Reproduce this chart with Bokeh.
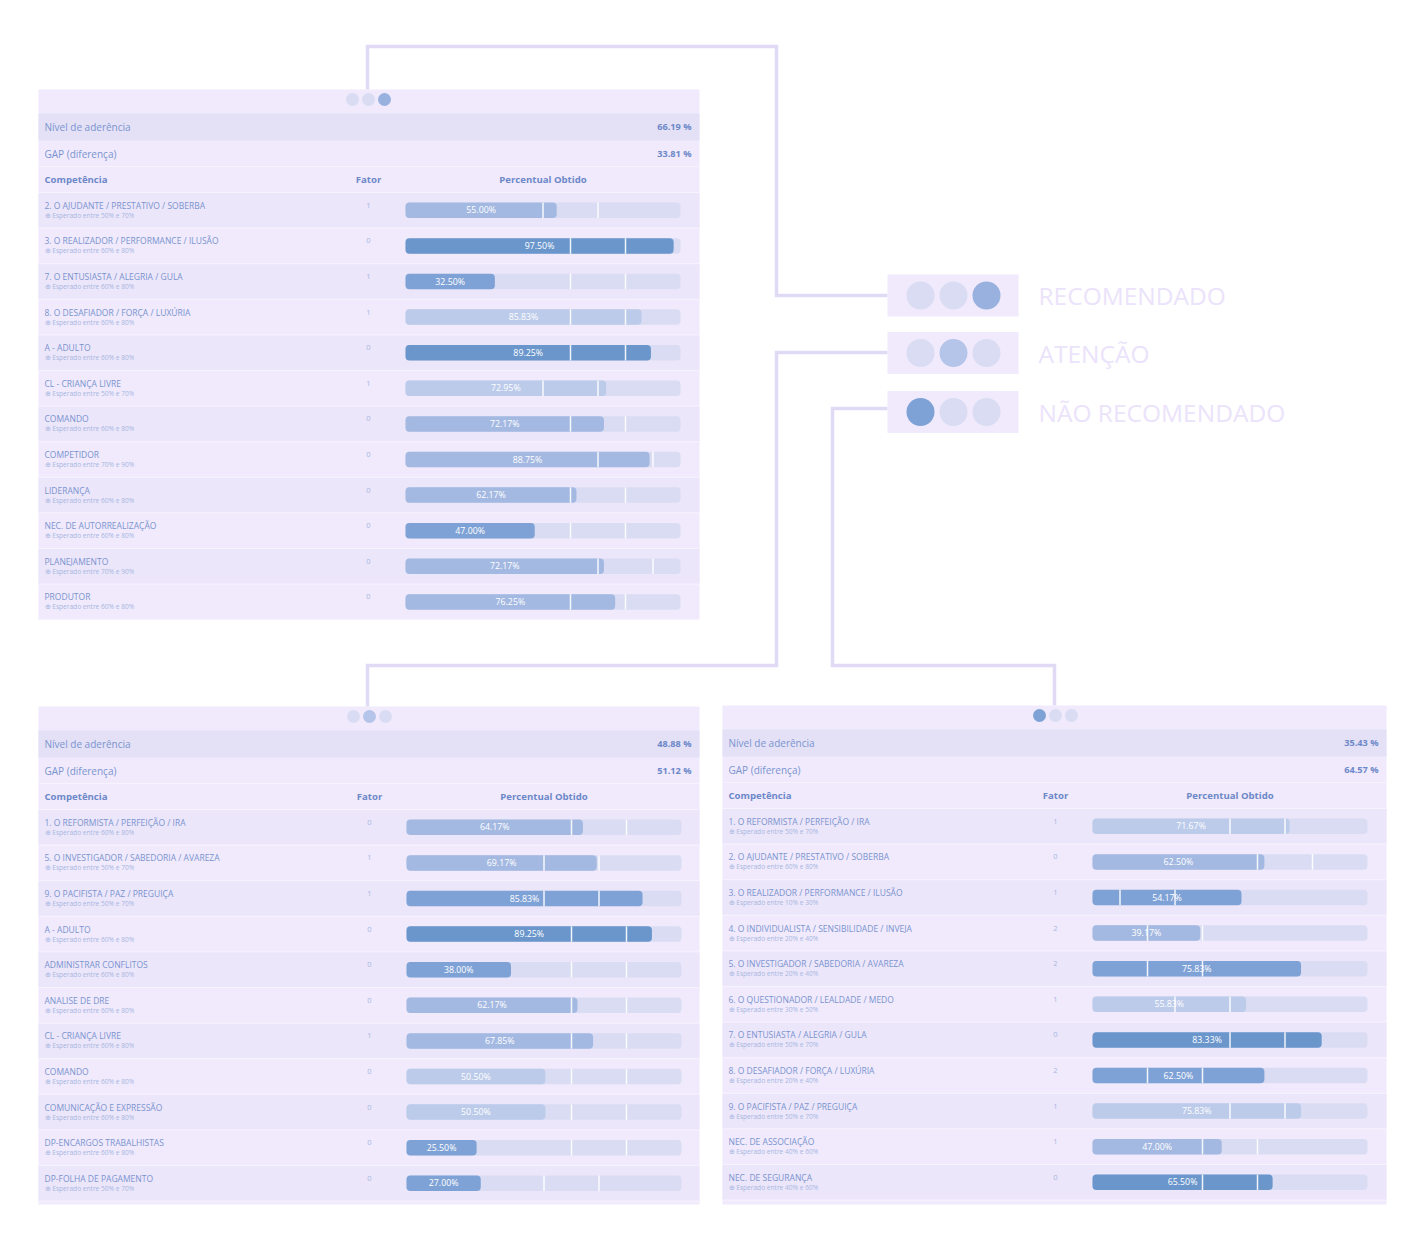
from bokeh.plotting import figure
from bokeh.models import Range1d, ColumnDataSource
from bokeh.embed import file_html
from bokeh.resources import INLINE
from bokeh.core.properties import value

# ---------------- DATA ----------------
sup_competencias = ["2. O AJUDANTE / PRESTATIVO / SOBERBA", "3. O REALIZADOR / PERFORMANCE / ILUSÃO",
                    "7. O ENTUSIASTA / ALEGRIA / GULA", "8. O DESAFIADOR / FORÇA / LUXÚRIA", "A - ADULTO",
                    "CL - CRIANÇA LIVRE", "COMANDO", "COMPETIDOR", "LIDERANÇA", "NEC. DE AUTORREALIZAÇÃO",
                    "PLANEJAMENTO", "PRODUTOR"]
sup_fator = [1, 0, 1, 1, 0, 1, 0, 0, 0, 0, 0, 0]
sup_percentual = [55.00, 97.50, 32.50, 85.83, 89.25, 72.95, 72.17, 88.75, 62.17, 47.00, 72.17, 76.25]
sup_esp_min = [50, 60, 60, 60, 60, 50, 60, 70, 60, 60, 70, 60]
sup_esp_max = [70, 80, 80, 80, 80, 70, 80, 90, 80, 80, 90, 80]
sup_aderencia = 66.19
sup_gap = 33.81
sup_status = "RECOMENDADO"

esq_competencias = ["1. O REFORMISTA / PERFEIÇÃO / IRA", "5. O INVESTIGADOR / SABEDORIA / AVAREZA",
                    "9. O PACIFISTA / PAZ / PREGUIÇA", "A - ADULTO", "ADMINISTRAR CONFLITOS", "ANALISE DE DRE",
                    "CL - CRIANÇA LIVRE", "COMANDO", "COMUNICAÇÃO E EXPRESSÃO", "DP-ENCARGOS TRABALHISTAS",
                    "DP-FOLHA DE PAGAMENTO"]
esq_fator = [0, 1, 1, 0, 0, 0, 1, 0, 0, 0, 0]
esq_percentual = [64.17, 69.17, 85.83, 89.25, 38.00, 62.17, 67.85, 50.50, 50.50, 25.50, 27.00]
esq_esp_min = [60, 50, 50, 60, 60, 60, 60, 60, 60, 60, 50]
esq_esp_max = [80, 70, 70, 80, 80, 80, 80, 80, 80, 80, 70]
esq_aderencia = 48.88
esq_gap = 51.12
esq_status = "ATENÇÃO"

dir_competencias = ["1. O REFORMISTA / PERFEIÇÃO / IRA", "2. O AJUDANTE / PRESTATIVO / SOBERBA",
                    "3. O REALIZADOR / PERFORMANCE / ILUSÃO", "4. O INDIVIDUALISTA / SENSIBILIDADE / INVEJA",
                    "5. O INVESTIGADOR / SABEDORIA / AVAREZA", "6. O QUESTIONADOR / LEALDADE / MEDO",
                    "7. O ENTUSIASTA / ALEGRIA / GULA", "8. O DESAFIADOR / FORÇA / LUXÚRIA",
                    "9. O PACIFISTA / PAZ / PREGUIÇA", "NEC. DE ASSOCIAÇÃO", "NEC. DE SEGURANÇA"]
dir_fator = [1, 0, 1, 2, 2, 1, 0, 2, 1, 1, 0]
dir_percentual = [71.67, 62.50, 54.17, 39.17, 75.83, 55.83, 83.33, 62.50, 75.83, 47.00, 65.50]
dir_esp_min = [50, 60, 10, 20, 20, 30, 50, 20, 50, 40, 40]
dir_esp_max = [70, 80, 30, 40, 40, 50, 70, 40, 70, 60, 60]
dir_aderencia = 35.43
dir_gap = 64.57
dir_status = "NÃO RECOMENDADO"

legenda_status = ["RECOMENDADO", "ATENÇÃO", "NÃO RECOMENDADO"]

# ---------------- STYLE ----------------
FONT = value("Open Sans")
PANEL = "#f0eafc"
ROW_ALT = "#ece6fa"
BAND = "#e4e1f6"
SEP = "#f7f3fe"
TRACK = "#d9dcf2"
TXT = "#7a94cf"
TXT_HEAD = "#6c88c8"
TXT_SUB = "#a7b7e1"
CONNECT = "#e0daf5"
LEG_TXT = "#ebe3fb"
C_LIGHT, C_MED, C_DARK, C_DARKEST = "#bccbea", "#a4b9e2", "#7fa2d6", "#6a96cc"
STATUS_DOT = {"RECOMENDADO": 2, "ATENÇÃO": 1, "NÃO RECOMENDADO": 0}
STATUS_COLOR = {"RECOMENDADO": "#98b1df", "ATENÇÃO": "#b5c5e9", "NÃO RECOMENDADO": "#7ea2d6"}
DOT_OFF = "#d9dcf2"


def shade(v, lo, hi, f):
    if lo <= v <= hi:
        return C_MED
    if v > hi and f == 0:
        return C_DARKEST
    gap = v - hi if v > hi else lo - v
    return C_LIGHT if gap < 10 else C_DARK


W, H = 1420, 1240
p = figure(width=W, height=H, x_range=Range1d(0, W), y_range=Range1d(H, 0),
           output_backend="svg", toolbar_location=None, min_border=0,
           x_axis_type=None, y_axis_type=None, outline_line_color=None,
           background_fill_color="white", border_fill_color="white")
p.grid.visible = False

# ---------------- connectors ----------------
p.multi_line(xs=[[367, 367, 776, 776, 887], [367, 367, 776, 776, 887], [1054, 1054, 832, 832, 887]],
             ys=[[89, 46, 46, 295, 295], [706, 665, 665, 352, 352], [705, 665, 665, 408, 408]],
             line_color=CONNECT, line_width=3.5, line_join="miter")

RH = 35.6


def painel(key, x0, x1, y0, y1, bx0, bx1, fx, nomes, fator, perc, emin, emax, ader, gap, status):
    rows_top = y0 + 103
    n = len(nomes)
    span = 100.0 * W / (bx1 - bx0)
    xs = -bx0 * span / W
    p.extra_x_ranges[key] = Range1d(xs, xs + span)
    e = -(rows_top / RH + 0.5)
    p.extra_y_ranges[key] = Range1d(e + H / RH, e)

    p.quad(left=x0, right=x1, top=y0, bottom=y1, fill_color=PANEL, line_color=None)
    p.quad(left=x0, right=x1, top=y0 + 24, bottom=y0 + 51, fill_color=BAND, line_color=None)
    idx = list(range(n))
    alt = [i for i in idx if i % 2 == 0]
    p.quad(left=x0, right=x1, top=[i - 0.5 for i in alt], bottom=[i + 0.5 for i in alt],
           fill_color=ROW_ALT, line_color=None, y_range_name=key)
    p.segment(x0=x0, x1=x1, y0=[i + 0.5 for i in idx], y1=[i + 0.5 for i in idx],
              line_color=SEP, line_width=1, y_range_name=key)
    p.segment(x0=x0, x1=x1, y0=[y0 + 77, y0 + 103], y1=[y0 + 77, y0 + 103], line_color=SEP, line_width=1)

    # status dots
    act = STATUS_DOT[status]
    p.scatter(x=[fx - 16, fx, fx + 16], y=[y0 + 10] * 3, size=13, line_color=None,
              fill_color=[STATUS_COLOR[status] if k == act else DOT_OFF for k in range(3)])

    # header texts
    lx = x0 + 6
    rx = x1 - 8
    p.text(x=[lx, lx], y=[y0 + 37, y0 + 64], text=["Nível de aderência", "GAP (diferença)"],
           text_font=FONT, text_font_size="10px", text_color=TXT, text_baseline="middle")
    p.text(x=[rx, rx], y=[y0 + 37, y0 + 64], text=[f"{ader:.2f} %", f"{gap:.2f} %"],
           text_font=FONT, text_font_size="9.2px", text_font_style="bold", text_color=TXT_HEAD,
           text_align="right", text_baseline="middle")
    p.text(x=[lx], y=[y0 + 90], text=["Competência"], text_font=FONT, text_font_size="9.6px",
           text_font_style="bold", text_color=TXT_HEAD, text_baseline="middle")
    p.text(x=[fx, (bx0 + bx1) / 2], y=[y0 + 90, y0 + 90], text=["Fator", "Percentual Obtido"],
           text_font=FONT, text_font_size="9.6px", text_font_style="bold", text_color=TXT_HEAD,
           text_align="center", text_baseline="middle")

    bh = 15.5 / RH
    src = ColumnDataSource(dict(
        row=idx, nome=nomes, fator=[str(f) for f in fator], perc=perc, meio=[v / 2 for v in perc],
        rot=[f"{v:.2f}%" for v in perc],
        sub=[f"⊕ Esperado entre {a}% e {b}%" for a, b in zip(emin, emax)],
        cor=[shade(v, a, b, f) for v, a, b, f in zip(perc, emin, emax, fator)],
        lx=[lx] * n, fx=[fx] * n, emin=emin, emax=emax,
        btop=[i - bh / 2 for i in idx], bbot=[i + bh / 2 for i in idx]))

    p.text(x="lx", y="row", text="nome", source=src, y_range_name=key, y_offset=-5,
           text_font=FONT, text_font_size="8.5px", text_color=TXT, text_baseline="middle")
    p.text(x="lx", y="row", text="sub", source=src, y_range_name=key, y_offset=5,
           text_font=FONT, text_font_size="6.6px", text_color=TXT_SUB, text_baseline="middle")
    p.text(x="fx", y="row", text="fator", source=src, y_range_name=key, y_offset=-5,
           text_font=FONT, text_font_size="7.5px", text_color=TXT_SUB, text_align="center",
           text_baseline="middle")

    p.hbar(y="row", left=0, right=100, height=bh, source=src, x_range_name=key, y_range_name=key,
           fill_color=TRACK, line_color=None, border_radius=4)
    p.hbar(y="row", left=0, right="perc", height=bh, source=src, x_range_name=key, y_range_name=key,
           fill_color="cor", line_color=None, border_radius=4)
    for col in ("emin", "emax"):
        p.segment(x0=col, x1=col, y0="btop", y1="bbot", source=src,
                  x_range_name=key, y_range_name=key, line_color="white", line_width=1.5,
                  line_alpha=0.9)
    p.text(x="meio", y="row", text="rot", source=src, x_range_name=key, y_range_name=key,
           text_font=FONT, text_font_size="8.8px", text_color="white", text_align="center",
           text_baseline="middle")


painel("sup", 38, 699, 89, 619, 405, 680, 368, sup_competencias, sup_fator, sup_percentual,
       sup_esp_min, sup_esp_max, sup_aderencia, sup_gap, sup_status)
painel("esq", 38, 699, 706, 1204, 406, 681, 369, esq_competencias, esq_fator, esq_percentual,
       esq_esp_min, esq_esp_max, esq_aderencia, esq_gap, esq_status)
painel("dir", 722, 1386, 705, 1204, 1092, 1367, 1055, dir_competencias, dir_fator, dir_percentual,
       dir_esp_min, dir_esp_max, dir_aderencia, dir_gap, dir_status)

# ---------------- legend ----------------
leg_y = [295, 352.5, 411.5]
for yc, st in zip(leg_y, legenda_status):
    p.quad(left=887, right=1018, top=yc - 21, bottom=yc + 21, fill_color=PANEL, line_color=None)
    act = STATUS_DOT[st]
    p.scatter(x=[920, 953, 986], y=[yc] * 3, size=28, line_color=None,
              fill_color=[STATUS_COLOR[st] if k == act else DOT_OFF for k in range(3)])
p.text(x=[1038] * 3, y=leg_y, text=legenda_status, text_font=FONT, text_font_size="24.5px",
       text_color=LEG_TXT, text_baseline="middle")

open("out.html", "w").write(file_html(p, INLINE))
